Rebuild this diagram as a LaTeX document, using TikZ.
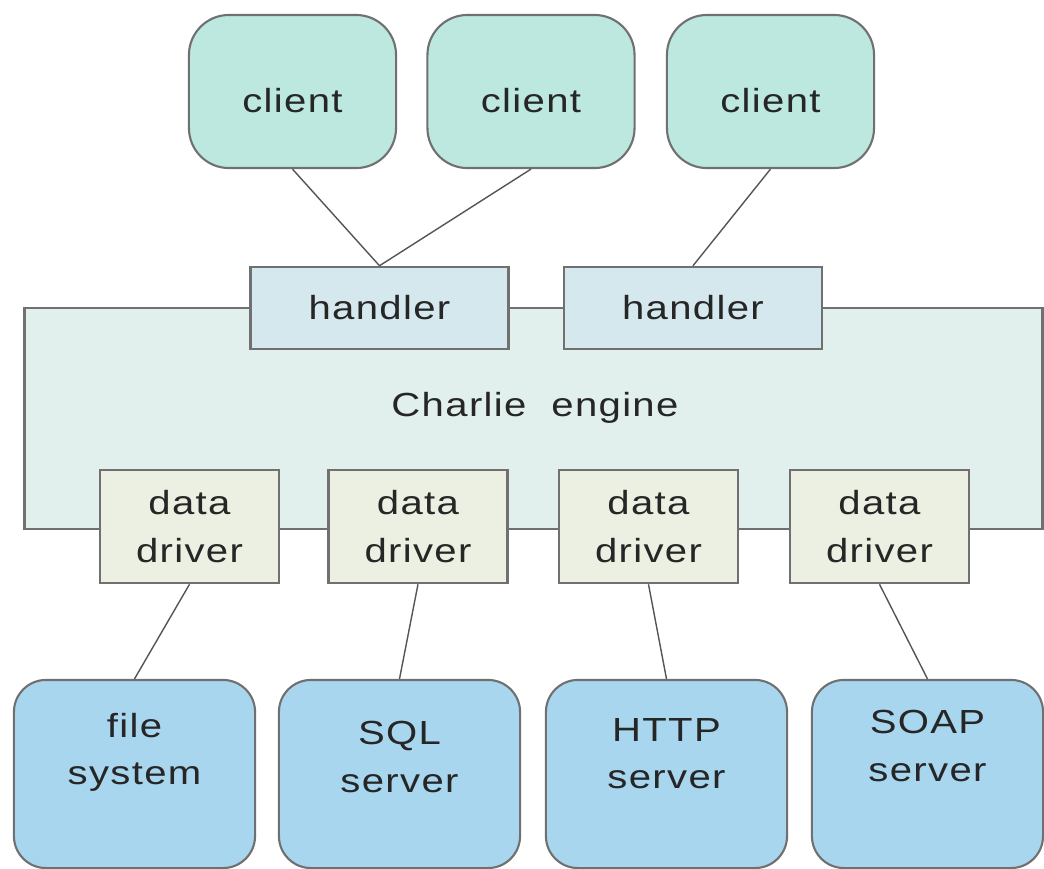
\documentclass[tikz,border=0pt]{standalone}
\usepackage{fontspec}
\setmainfont{Liberation Sans}[FakeStretch=1.2,LetterSpace=4]
\usepackage{tikz}
\definecolor{clientfill}{HTML}{BDE8E0}
\definecolor{handlerfill}{HTML}{D4E8EE}
\definecolor{enginefill}{HTML}{E1F0ED}
\definecolor{driverfill}{HTML}{ECF0E2}
\definecolor{serverfill}{HTML}{A8D6EE}
\definecolor{boxline}{HTML}{707070}
\definecolor{wire}{HTML}{555555}
\tikzstyle{clientbox} = [draw=boxline, line width=0.6pt, rectangle, rounded corners=0.4cm, fill=clientfill, minimum width=2.07cm, minimum height=1.53cm, text height=0.42cm]
\tikzstyle{handlerbox} = [draw=boxline, line width=0.7pt, rectangle, fill=handlerfill, minimum width=2.58cm, minimum height=0.82cm]
\tikzstyle{enginebox} = [draw=boxline, line width=0.7pt, rectangle, fill=enginefill, minimum width=10.17cm, minimum height=2.21cm]
\tikzstyle{driverbox} = [draw=boxline, line width=0.7pt, rectangle, fill=driverfill, minimum width=1.79cm, minimum height=1.13cm, align=center]
\tikzstyle{serverbox} = [draw=boxline, line width=0.6pt, rectangle, rounded corners=0.32cm, fill=serverfill, minimum width=2.41cm, minimum height=1.88cm]
\tikzstyle{boxtext} = [align=center, inner sep=0pt]
\tikzstyle{link} = [draw=wire, line width=0.4pt]

\begin{document}
\begin{tikzpicture}[x=0.01cm, y=-0.01cm, font=\fontsize{9.5pt}{13.4pt}\selectfont, text=black!85]
    \useasboundingbox (0,0) rectangle (1044,869);

    % clients
    \node [clientbox] (client1) at (292.5,91.5) {client};
    \node [clientbox] (client2) at (531,91.5) {client};
    \node [clientbox] (client3) at (770.5,91.5) {client};

    % engine with its handlers and drivers
    \node [enginebox] (engine) at (533.5,418.5) {};
    \node [boxtext] (enginetext) at (535,408) {Charlie\ \ engine};
    \node [handlerbox] (handler1) at (379.5,308) {handler};
    \node [handlerbox] (handler2) at (693,308) {handler};
    \node [driverbox] (driver1) at (189.5,526.5) {data\\driver};
    \node [driverbox] (driver2) at (418,526.5) {data\\driver};
    \node [driverbox] (driver3) at (648.5,526.5) {data\\driver};
    \node [driverbox] (driver4) at (879.5,526.5) {data\\driver};

    % data sources
    \node [serverbox] (filesys) at (134.5,774) {};
    \node [serverbox] (sqlsrv) at (399.5,774) {};
    \node [serverbox] (httpsrv) at (666.5,774) {};
    \node [serverbox, minimum width=2.31cm] (soapsrv) at (927.5,774) {};
    \node [boxtext] (filesystext) at (134.5,752) {file\\system};
    \node [boxtext] (sqlsrvtext) at (399.5,757) {SQL\\server};
    \node [boxtext] (httpsrvtext) at (666.5,754) {HTTP\\server};
    \node [boxtext] (soapsrvtext) at (927.5,746) {SOAP\\server};

    \draw [link] (client1.south) -- (handler1.north);
    \draw [link] (client2.south) -- (handler1.north);
    \draw [link] (client3.south) -- (handler2.north);
    \draw [link] (driver1.south) -- (filesys.north);
    \draw [link] (driver2.south) -- (sqlsrv.north);
    \draw [link] (driver3.south) -- (httpsrv.north);
    \draw [link] (driver4.south) -- (soapsrv.north);
\end{tikzpicture}
\end{document}
